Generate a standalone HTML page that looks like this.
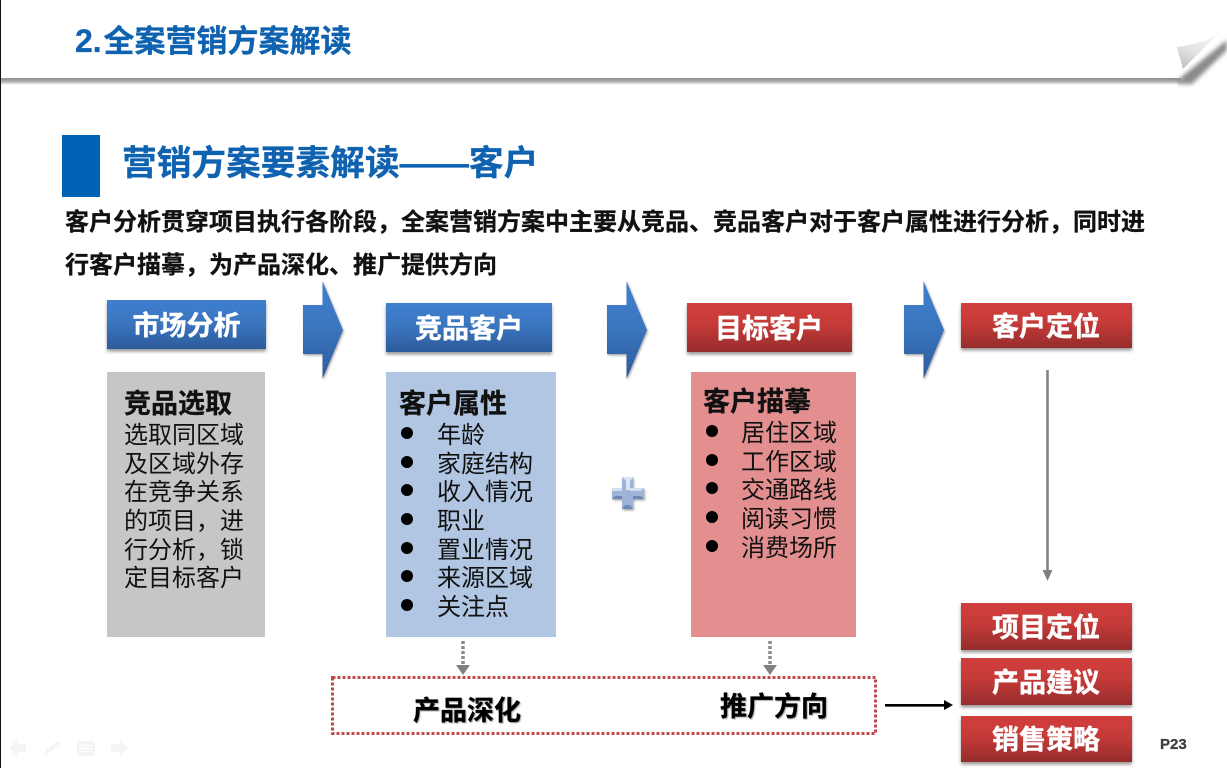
<!DOCTYPE html>
<html lang="zh">
<head>
<meta charset="utf-8">
<title>全案营销方案解读</title>
<style>
html,body{margin:0;padding:0;background:#fff;width:1227px;height:768px;overflow:hidden}
svg{display:block}
text{font-family:"Liberation Sans","Noto Sans CJK SC",sans-serif}
.b{font-weight:700;stroke-width:.3px}
.w{fill:#fff;stroke:#fff;stroke-width:.4px;font-weight:700;font-size:27px;text-anchor:middle}
.l{font-size:24px;fill:#111}
</style>
</head>
<body>
<svg width="1227" height="768" viewBox="0 0 1227 768" xmlns="http://www.w3.org/2000/svg">
<defs>
<linearGradient id="bl" x1="0" y1="0" x2="0" y2="1"><stop offset="0" stop-color="#3f7fcf"/><stop offset=".5" stop-color="#3a74bd"/><stop offset="1" stop-color="#2b5b9b"/></linearGradient>
<linearGradient id="rd" x1="0" y1="0" x2="0" y2="1"><stop offset="0" stop-color="#d23f3c"/><stop offset=".45" stop-color="#c43a38"/><stop offset="1" stop-color="#962c2c"/></linearGradient>
<linearGradient id="fold" x1="0.7" y1="0" x2="0.1" y2="1"><stop offset="0" stop-color="#f4f4f4"/><stop offset=".55" stop-color="#e0e0e0"/><stop offset="1" stop-color="#bcbcbc"/></linearGradient>
<linearGradient id="band" x1="0" y1="0" x2="0" y2="1"><stop offset="0" stop-color="#8f8f8f"/><stop offset=".45" stop-color="#a8a8a8"/><stop offset="1" stop-color="#fff"/></linearGradient>
<filter id="sh" x="-10%" y="-20%" width="120%" height="150%"><feDropShadow dx="0" dy="2.5" stdDeviation="1.6" flood-color="#000" flood-opacity=".4"/></filter>
<filter id="s2" x="-20%" y="-20%" width="140%" height="140%"><feDropShadow dx="1" dy="1.5" stdDeviation="1" flood-color="#000" flood-opacity=".35"/></filter>
<filter id="bl2" x="-20%" y="-50%" width="140%" height="200%"><feGaussianBlur stdDeviation="2"/></filter>
<filter id="ts" x="-5%" y="-10%" width="110%" height="130%"><feDropShadow dx="1" dy="1" stdDeviation=".6" flood-color="#000" flood-opacity=".35"/></filter>
</defs>

<rect x="0" y="0" width="1" height="768" fill="#111"/>
<rect x="1" y="78" width="1180" height="7" fill="url(#band)"/>
<path d="M1180 78 L1227 40 L1227 50 L1192 84 L1178 84Z" fill="#8a8a8a" filter="url(#bl2)"/>
<path d="M1177 47 Q1200 44 1217 35 L1183 69Z" fill="url(#fold)"/>

<text class="b" x="75" y="52" font-size="32" fill="#0f62b0" stroke="#0f62b0">2.</text>
<text class="b" x="103.500" y="52" font-size="31" fill="#0f62b0" stroke="#0f62b0">全案营销方案解读</text>
<rect x="62" y="135" width="38" height="62" fill="#0062b4"/>
<text class="b" x="122" y="175" font-size="34.7" fill="#0f62b0" stroke="#0f62b0">营销方案要素解读——客户</text>
<text class="b" x="65" y="230" font-size="24" fill="#111" stroke="#111">客户分析贯穿项目执行各阶段，全案营销方案中主要从竞品、竞品客户对于客户属性进行分析，同时进</text>
<text class="b" x="65" y="273" font-size="24" fill="#111" stroke="#111">行客户描摹，为产品深化、推广提供方向</text>

<g filter="url(#sh)">
<rect x="107" y="300" width="159" height="49" fill="url(#bl)"/>
<rect x="386" y="303" width="166" height="49" fill="url(#bl)"/>
<rect x="687" y="303" width="165" height="49" fill="url(#rd)"/>
<rect x="961" y="303" width="171" height="45" fill="url(#rd)"/>
<rect x="961" y="603" width="171" height="47" fill="url(#rd)"/>
<rect x="961" y="658" width="171" height="47" fill="url(#rd)"/>
<rect x="961" y="716" width="171" height="46" fill="url(#rd)"/>
</g>
<text class="w" x="186.500" y="335">市场分析</text>
<text class="w" x="469" y="338">竞品客户</text>
<text class="w" x="769" y="338">目标客户</text>
<text class="w" x="1046" y="336">客户定位</text>
<text class="w" x="1046" y="637">项目定位</text>
<text class="w" x="1046" y="692">产品建议</text>
<text class="w" x="1046" y="749">销售策略</text>

<g fill="url(#bl)" filter="url(#s2)">
<path d="M303 305H322.500V281L343 330L322.500 379V354H303Z"/>
<path d="M607 305H626.500V281L647 330L626.500 379V354H607Z"/>
<path d="M904 305H923.500V281L944 330L923.500 379V354H904Z"/>
</g>

<rect x="107" y="372" width="158" height="265" fill="#c6c6c6"/>
<rect x="386" y="372" width="170" height="265" fill="#b0c6e2"/>
<rect x="691" y="372" width="165" height="265" fill="#e38f8f"/>

<text class="b" x="124" y="413" font-size="27" fill="#111" stroke="#111">竞品选取</text>
<text class="l" x="124" y="443">选取同区域</text>
<text class="l" x="124" y="472">及区域外存</text>
<text class="l" x="124" y="500">在竞争关系</text>
<text class="l" x="124" y="529">的项目，进</text>
<text class="l" x="124" y="558">行分析，锁</text>
<text class="l" x="124" y="586">定目标客户</text>

<text class="b" x="399" y="413" font-size="27" fill="#111" stroke="#111">客户属性</text>
<g fill="#000">
<circle cx="407" cy="433" r="6"/><circle cx="407" cy="462" r="6"/><circle cx="407" cy="490" r="6"/><circle cx="407" cy="519" r="6"/><circle cx="407" cy="548" r="6"/><circle cx="407" cy="576" r="6"/><circle cx="407" cy="605" r="6"/>
<circle cx="712" cy="431" r="6"/><circle cx="712" cy="460" r="6"/><circle cx="712" cy="488" r="6"/><circle cx="712" cy="517" r="6"/><circle cx="712" cy="546" r="6"/>
</g>
<text class="l" x="437" y="443">年龄</text>
<text class="l" x="437" y="472">家庭结构</text>
<text class="l" x="437" y="500">收入情况</text>
<text class="l" x="437" y="529">职业</text>
<text class="l" x="437" y="558">置业情况</text>
<text class="l" x="437" y="586">来源区域</text>
<text class="l" x="437" y="615">关注点</text>

<text class="b" x="703" y="411" font-size="27" fill="#111" stroke="#111">客户描摹</text>
<text class="l" x="741" y="441">居住区域</text>
<text class="l" x="741" y="470">工作区域</text>
<text class="l" x="741" y="498">交通路线</text>
<text class="l" x="741" y="527">阅读习惯</text>
<text class="l" x="741" y="556">消费场所</text>

<g filter="url(#s2)">
<path d="M622 477H633V488H644V499H633V509H622V499H612V488H622Z" fill="#9db3d8"/>
<path d="M622 477H633L630 481V490H626V481Z" fill="#dbe4f2"/>
<path d="M612 488H622V491H612Z" fill="#d2dded"/>
<path d="M630 488H644L641 491H630Z" fill="#d2dded"/>
<path d="M612 499H622V496H615Z" fill="#6f88b2"/>
<path d="M622 509H633L630 505H625Z" fill="#6f88b2"/>
<path d="M633 499H644L641 496H633Z" fill="#6f88b2"/>
</g>

<line x1="1047.500" y1="370" x2="1047.500" y2="572" stroke="#7f7f7f" stroke-width="2.500"/>
<path d="M1042.500 570H1052.500L1047.500 581Z" fill="#7f7f7f"/>

<line x1="463" y1="641" x2="463" y2="666" stroke="#8a8a8a" stroke-width="3.500" stroke-dasharray="3 2"/>
<path d="M456 665H470L463 675Z" fill="#808080"/>
<line x1="770" y1="641" x2="770" y2="666" stroke="#8a8a8a" stroke-width="3.500" stroke-dasharray="3 2"/>
<path d="M763 665H777L770 675Z" fill="#808080"/>

<rect x="332.500" y="677.500" width="543" height="56" fill="#fff" stroke="#bf4a4d" stroke-width="3" stroke-dasharray="3 2"/>
<text class="b" x="413" y="720" font-size="27" fill="#000" stroke="#000" filter="url(#ts)">产品深化</text>
<text class="b" x="720" y="716" font-size="27" fill="#000" stroke="#000" filter="url(#ts)">推广方向</text>

<rect x="885" y="704" width="60" height="2.500" fill="#000" filter="url(#ts)"/>
<path d="M944 700L953 705L944 710Z" fill="#000"/>

<g fill="#f4f4f4">
<path d="M9 748L17 740V744H26V752H17V756Z"/>
<path d="M44 756L46 750L57 741L60 743L49 753Z"/>
<rect x="77" y="741" width="18" height="15" rx="2"/>
<path d="M128 748L120 740V744H111V752H120V756Z"/>
</g>
<g stroke="#fff" stroke-width="1"><line x1="79" y1="745.500" x2="93" y2="745.500"/><line x1="79" y1="748.500" x2="93" y2="748.500"/><line x1="79" y1="751.500" x2="93" y2="751.500"/></g>

<text class="b" x="1160" y="749" font-size="15" fill="#404040" stroke="#404040">P23</text>
</svg>
</body>
</html>
